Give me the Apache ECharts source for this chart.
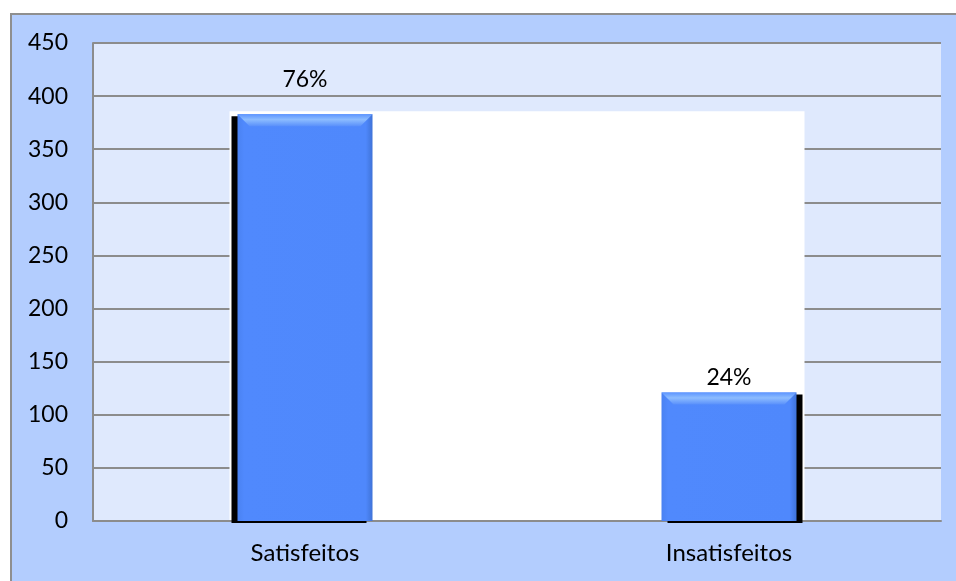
<!DOCTYPE html>
<html>
<head>
<meta charset="utf-8">
<script src="https://cdn.jsdelivr.net/npm/echarts@6/dist/echarts.min.js"></script>
<style>
html,body{margin:0;padding:0;background:#fff;overflow:hidden;}
#frame{position:absolute;left:10px;top:13px;width:960px;height:600px;background:#b3cdfe;border:2px solid #8f8f8f;}
#chart{position:absolute;left:0;top:0;width:956px;height:581px;}
</style>
</head>
<body>
<div id="frame"></div>
<div id="chart"></div>
<script>
const categories = ['Satisfeitos', 'Insatisfeitos'];
const values = [383, 121];
const pctLabels = ['76%', '24%'];
const yTicks = [0, 50, 100, 150, 200, 250, 300, 350, 400, 450];

const chart = echarts.init(document.getElementById('chart'));
const BAR_W = 135;
const font = 'Lato, "Open Sans", sans-serif';
const FS = 23;

chart.setOption({
  backgroundColor: 'transparent',
  animation: false,
  grid: {left: 93, right: 15, top: 43, bottom: 60, show: true, backgroundColor: '#dfe9fd', borderWidth: 0},
  xAxis: {
    type: 'category',
    data: categories,
    axisLine: {show: true, lineStyle: {color: '#8c8c8c', width: 2}},
    axisTick: {show: false},
    axisLabel: {color: '#000', fontSize: 24, fontFamily: font, margin: 20}
  },
  yAxis: {
    type: 'value',
    min: yTicks[0],
    max: yTicks[yTicks.length - 1],
    interval: 50,
    axisLine: {show: true, lineStyle: {color: '#8c8c8c', width: 2}},
    axisTick: {show: false},
    axisLabel: {color: '#000', fontSize: FS, fontFamily: font, margin: 25},
    splitLine: {lineStyle: {color: '#8c8c8c', width: 2}}
  },
  series: [
    {
      type: 'custom',
      z: 1,
      silent: true,
      data: [[0, Math.max.apply(null, values)]],
      renderItem: function (params, api) {
        const top = api.coord([0, api.value(1)]);
        const a = api.coord([0, 0]);
        const b = api.coord([categories.length - 1, 0]);
        const x0 = a[0] - BAR_W / 2 - 8;
        const x1 = b[0] + BAR_W / 2 + 8;
        return {
          type: 'rect',
          shape: {x: x0, y: top[1] - 3, width: x1 - x0, height: a[1] - top[1] + 2},
          style: {fill: '#ffffff'}
        };
      }
    },
    {
      type: 'bar',
      z: 3,
      barWidth: BAR_W,
      data: values.map(function (v, i) {
        return {
          value: v,
          itemStyle: {
            shadowColor: '#000',
            shadowBlur: 0,
            shadowOffsetX: i === 0 ? -6 : 6,
            shadowOffsetY: 2
          },
          label: {offset: [0, i === 0 ? -20 : 0]}
        };
      }),
      itemStyle: {
        color: new echarts.graphic.LinearGradient(0, 0, 1, 0, [
          {offset: 0, color: '#4a82f2'},
          {offset: 0.05, color: '#5089fd'},
          {offset: 0.95, color: '#4f88fc'},
          {offset: 1, color: '#3f73d8'}
        ])
      },
      label: {
        show: true,
        position: 'top',
        distance: 3,
        color: '#000',
        fontSize: FS,
        fontFamily: font,
        formatter: function (p) { return pctLabels[p.dataIndex]; }
      }
    },
    {
      type: 'custom',
      z: 4,
      silent: true,
      data: values.map(function (v, i) { return [i, v]; }),
      renderItem: function (params, api) {
        const t = api.coord([api.value(0), api.value(1)]);
        const x0 = t[0] - BAR_W / 2;
        return {
          type: 'polygon',
          shape: {points: [[x0, t[1]], [x0 + BAR_W, t[1]], [x0 + BAR_W - 12, t[1] + 12], [x0 + 12, t[1] + 12]]},
          style: {
            fill: new echarts.graphic.LinearGradient(0, 0, 0, 1, [
              {offset: 0, color: '#5d95ff'},
              {offset: 0.45, color: '#8cbcff'},
              {offset: 1, color: '#5a90fb'}
            ])
          }
        };
      }
    }
  ]
});
</script>
</body>
</html>
